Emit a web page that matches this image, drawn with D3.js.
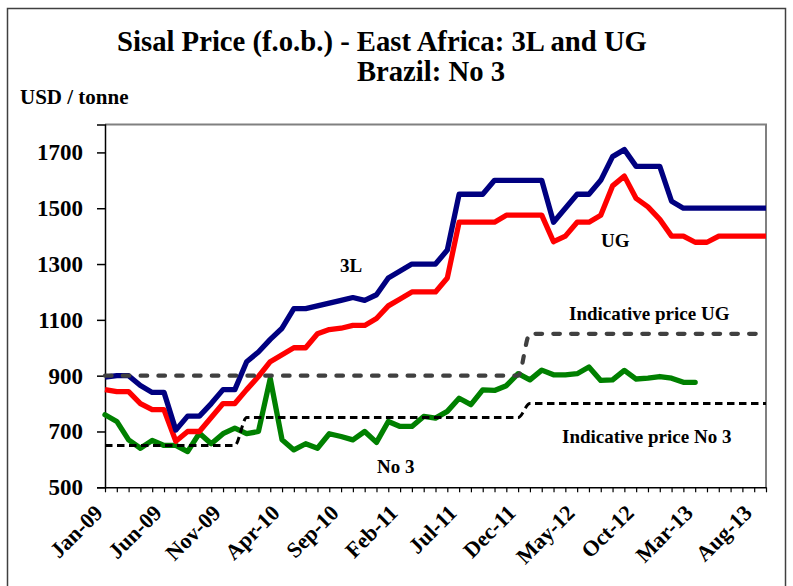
<!DOCTYPE html>
<html><head><meta charset="utf-8">
<script src="https://cdn.jsdelivr.net/npm/d3@7"></script>
<style>
body{margin:0;background:#fff}
svg{display:block}
text{font-family:"Liberation Serif","Times New Roman",serif;font-weight:bold;fill:#000}
</style>
</head><body><svg id="c" width="793" height="586"></svg>
<script>
const months = ["Jan-09","Feb-09","Mar-09","Apr-09","May-09","Jun-09","Jul-09","Aug-09","Sep-09","Oct-09","Nov-09","Dec-09",
"Jan-10","Feb-10","Mar-10","Apr-10","May-10","Jun-10","Jul-10","Aug-10","Sep-10","Oct-10","Nov-10","Dec-10",
"Jan-11","Feb-11","Mar-11","Apr-11","May-11","Jun-11","Jul-11","Aug-11","Sep-11","Oct-11","Nov-11","Dec-11",
"Jan-12","Feb-12","Mar-12","Apr-12","May-12","Jun-12","Jul-12","Aug-12","Sep-12","Oct-12","Nov-12","Dec-12",
"Jan-13","Feb-13","Mar-13","Apr-13","May-13","Jun-13","Jul-13","Aug-13","Sep-13"];
const xTickLabels = ["Jan-09","Jun-09","Nov-09","Apr-10","Sep-10","Feb-11","Jul-11","Dec-11","May-12","Oct-12","Mar-13","Aug-13"];
const yTicks = [500,700,900,1100,1300,1500,1700];

const price3L = [895,900,900,865,840,840,705,755,755,800,850,850,
950,985,1030,1070,1140,1140,1150,1160,1170,1180,1170,1190,
1250,1275,1300,1300,1300,1350,1550,1550,1550,1600,1600,1600,
1600,1600,1450,1500,1550,1550,1600,1685,1710,1650,1650,1650,
1525,1500,1500,1500,1500,1500,1500,1500,1500];
const priceUG = [850,843,843,800,778,778,665,700,700,750,800,800,
850,897,950,975,1000,1000,1050,1065,1070,1080,1080,1105,
1150,1175,1200,1200,1200,1250,1450,1450,1450,1450,1475,1475,
1475,1475,1380,1400,1450,1450,1475,1580,1615,1535,1505,1460,
1400,1400,1378,1378,1400,1400,1400,1400,1400];
const priceNo3 = [760,736,670,640,668,650,650,628,694,656,692,712,
692,700,890,670,634,656,640,692,682,670,700,661,
736,718,718,754,748,772,819,796,849,847,864,907,
885,920,903,903,907,931,883,885,919,888,891,897,
891,876,876];
const indicativeUG = [900,900,900,900,900,900,900,900,900,900,900,900,
900,900,900,900,900,900,900,900,900,900,900,900,
900,900,900,900,900,900,900,900,900,900,900,900,
1050,1050,1050,1050,1050,1050,1050,1050,1050,1050,1050,1050,
1050,1050,1050,1050,1050,1050,1050,1050,1050];
const indicativeNo3 = [650,650,650,650,650,650,650,650,650,650,650,650,
750,750,750,750,750,750,750,750,750,750,750,750,
750,750,750,750,750,750,750,750,750,750,750,750,
800,800,800,800,800,800,800,800,800,800,800,800,
800,800,800,800,800,800,800,800,800];

const svg = d3.select("#c");
const L = 105, R = 766, T = 124.5, B = 487.3;
const x = d3.scalePoint().domain(months).range([L, R]);
const y = d3.scaleLinear().domain([500, 1800]).range([B, T]);

// outer border
svg.append("rect").attr("x", 7.5).attr("y", 8.5).attr("width", 778).attr("height", 600)
  .attr("fill", "none").attr("stroke", "#404040").attr("stroke-width", 1.5);

// plot area frame (gray top/right)
svg.append("path").attr("d", `M${L},${T}H${R}V${B}`).attr("fill", "none")
  .attr("stroke", "#808080").attr("stroke-width", 2);

// titles
svg.append("text").attr("x", 382).attr("y", 51).attr("text-anchor", "middle")
  .style("font-size", "28.7px").text("Sisal Price (f.o.b.) - East Africa: 3L and UG");
svg.append("text").attr("x", 431).attr("y", 81).attr("text-anchor", "middle")
  .style("font-size", "28.7px").text("Brazil: No 3");
svg.append("text").attr("x", 20).attr("y", 104)
  .style("font-size", "21px").text("USD / tonne");

// y axis
const yAxis = svg.append("g").attr("transform", `translate(${L},0)`)
  .call(d3.axisLeft(y).tickValues(yTicks).tickSize(8).tickPadding(14).tickFormat(d3.format("d")));
yAxis.select(".domain").attr("stroke", "#000").attr("stroke-width", 1.5);
yAxis.selectAll(".tick line").attr("stroke", "#000").attr("stroke-width", 1.5);
yAxis.selectAll(".tick text").style("font-size", "23px").style("font-family", "'Liberation Serif',serif").style("font-weight", "bold");

// x axis
const xAxis = svg.append("g").attr("transform", `translate(0,${B})`)
  .call(d3.axisBottom(x).tickValues(months).tickSize(5).tickSizeOuter(0).tickFormat(""));
xAxis.select(".domain").attr("stroke", "#000").attr("stroke-width", 1.5);
xAxis.selectAll(".tick line").attr("stroke", "#000").attr("stroke-width", 1.2);

svg.append("g").selectAll("text").data(xTickLabels).join("text")
  .attr("transform", d => `translate(${x(d) - 1},${B + 27}) rotate(-45)`)
  .attr("text-anchor", "end")
  .style("font-size", "22px").text(d => d);

// lines
const straight = d3.line().x((d, i) => x(months[i])).y(d => y(d));
const smooth = d3.line().x((d, i) => x(months[i])).y(d => y(d)).curve(d3.curveMonotoneX);

svg.append("path").datum(priceNo3).attr("d", straight).attr("fill", "none")
  .attr("stroke", "#008000").attr("stroke-width", 5.3).attr("stroke-linejoin", "round").attr("stroke-linecap", "round");
svg.append("path").datum(priceUG).attr("d", straight).attr("fill", "none")
  .attr("stroke", "#ff0000").attr("stroke-width", 5.3).attr("stroke-linejoin", "round");
svg.append("path").datum(price3L).attr("d", straight).attr("fill", "none")
  .attr("stroke", "#000080").attr("stroke-width", 5.3).attr("stroke-linejoin", "round");
svg.append("path").datum(indicativeUG).attr("d", smooth).attr("fill", "none")
  .attr("stroke", "#404040").attr("stroke-width", 4.2).attr("stroke-linecap", "round")
  .attr("stroke-dasharray", "6.6,11.2");
svg.append("path").datum(indicativeNo3).attr("d", smooth).attr("fill", "none")
  .attr("stroke", "#000").attr("stroke-width", 3).attr("stroke-dasharray", "7.5,4.5");

// series labels
const labels = [
  {t: "3L", x: 340, y: 272},
  {t: "UG", x: 601, y: 247},
  {t: "No 3", x: 377, y: 473},
  {t: "Indicative price UG", x: 569, y: 320},
  {t: "Indicative price No 3", x: 562, y: 443}
];
svg.append("g").selectAll("text").data(labels).join("text")
  .attr("x", d => d.x).attr("y", d => d.y).style("font-size", "19px").text(d => d.t);
</script>
</body></html>
